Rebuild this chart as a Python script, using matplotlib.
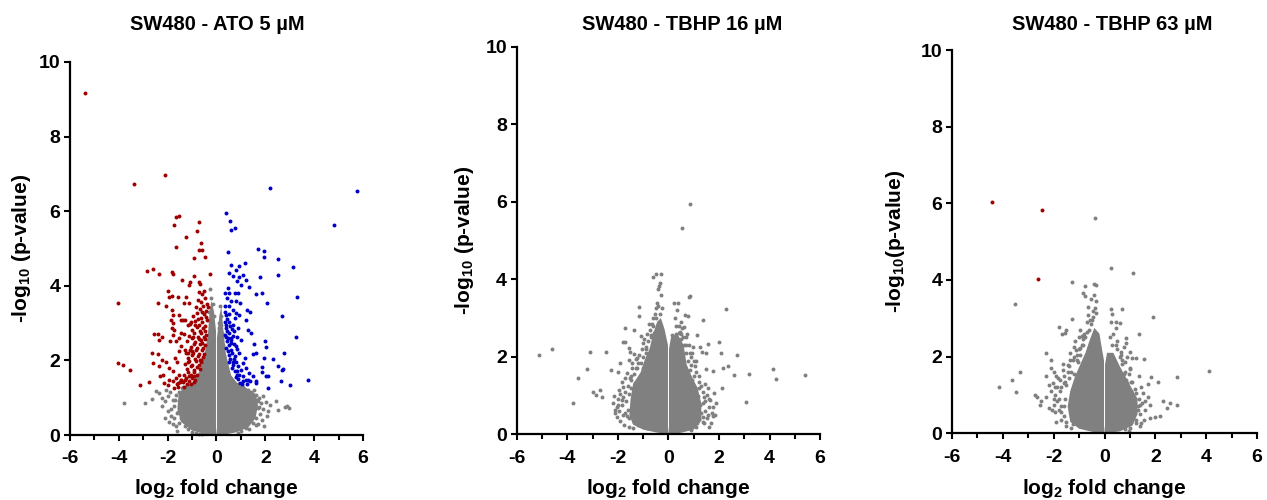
import matplotlib.pyplot as plt

plt.rcParams['font.family'] = ['Liberation Sans', 'DejaVu Sans']
plt.rcParams['font.weight'] = 'bold'
plt.rcParams['axes.labelweight'] = 'bold'
plt.rcParams['axes.unicode_minus'] = False
plt.rcParams['mathtext.fontset'] = 'custom'
plt.rcParams['mathtext.rm'] = 'Liberation Sans:bold'
plt.rcParams['mathtext.it'] = 'Liberation Sans:bold'
plt.rcParams['mathtext.bf'] = 'Liberation Sans:bold'

GREY = '#808080'
RED = '#a00000'
BLUE = '#0000c8'

titles = ['SW480 - ATO 5 µM', 'SW480 - TBHP 16 µM', 'SW480 - TBHP 63 µM']
ylabels = ['-log$_{10}$ (p-value)', '-log$_{10}$ (p-value)', '-log$_{10}$(p-value)']
xticks = [-6, -4, -2, 0, 2, 4, 6]
yticks = [0, 2, 4, 6, 8, 10]

# ATO 5 uM, significantly down (log2 fc, -log10 p)
ato_down = [
    (-5.38, 9.18), (-2.11, 6.96), (-3.38, 6.72), (-1.66, 5.84), (-1.55, 5.87), (-1.72, 5.62),
    (-0.71, 5.71), (-0.81, 5.48), (-1.23, 5.31), (-0.63, 5.15), (-1.66, 5.04), (-0.70, 4.97),
    (-0.60, 4.97), (-0.92, 4.74), (-0.47, 4.76), (-0.27, 4.32), (-2.83, 4.40), (-2.61, 4.45),
    (-2.37, 4.31), (-1.82, 4.38), (-1.78, 4.31), (-1.41, 4.16), (-0.93, 4.25), (-1.07, 4.09),
    (-1.14, 4.03), (-0.72, 4.11), (-0.66, 4.05), (-4.04, 3.55), (-2.41, 3.55), (-2.07, 3.47),
    (-2.00, 3.85), (-1.81, 3.73), (-1.96, 3.69), (-1.59, 3.69), (-1.31, 3.54), (-1.12, 3.54),
    (-1.24, 3.71), (-1.82, 3.36), (-1.76, 3.23), (-1.52, 3.22), (-1.45, 3.09), (-1.35, 3.09),
    (-1.27, 3.09), (-1.85, 3.09), (-1.79, 3.00), (-1.82, 2.87), (-1.72, 2.82), (-1.16, 2.96),
    (-1.03, 3.04), (-2.57, 2.71), (-2.41, 2.71), (-2.37, 2.55), (-2.23, 2.63), (-1.45, 2.73),
    (-1.34, 2.71), (-1.66, 2.51), (-1.52, 2.60), (-1.89, 2.51), (-1.79, 2.69), (-2.64, 2.21),
    (-2.41, 2.17), (-1.52, 2.24), (-1.45, 2.38), (-1.70, 2.06), (-1.63, 1.97), (-1.30, 2.29),
    (-1.15, 2.20), (-2.59, 1.93), (-2.37, 1.84), (-2.23, 2.02), (-2.07, 1.97), (-1.93, 1.79),
    (-1.79, 1.71), (-2.30, 1.57), (-2.20, 1.62), (-4.04, 1.93), (-3.82, 1.87), (-3.54, 1.75),
    (-3.12, 1.33), (-2.75, 1.41), (-2.13, 1.39), (-2.00, 1.35), (-1.93, 1.48), (-1.79, 1.44),
    (-1.66, 1.53), (-1.59, 1.39), (-1.45, 1.48), (-1.52, 1.62), (-1.31, 1.30), (-1.59, 1.30),
    (-1.72, 1.26),
    (-0.71, 3.83), (-0.58, 3.77), (-0.52, 3.86), (-0.77, 3.63), (-0.64, 3.57), (-0.47, 3.66),
    (-0.39, 3.52), (-0.83, 3.43), (-0.69, 3.37), (-0.56, 3.46), (-0.44, 3.33), (-0.35, 3.44),
    (-0.97, 3.18), (-0.79, 3.26), (-0.65, 3.13), (-0.53, 3.24), (-0.43, 3.16), (-1.07, 2.97),
    (-0.89, 3.06), (-0.73, 2.94), (-0.61, 3.03), (-0.49, 2.92), (-0.38, 3.08), (-0.99, 2.81),
    (-0.81, 2.89), (-0.67, 2.78), (-0.57, 2.88), (-0.45, 2.80), (-1.12, 2.66), (-0.93, 2.74),
    (-0.76, 2.63), (-0.63, 2.73), (-0.51, 2.64), (-0.43, 2.69), (-1.19, 2.51), (-1.01, 2.59),
    (-0.86, 2.49), (-0.71, 2.58), (-0.59, 2.47), (-0.49, 2.57), (-1.06, 2.36), (-0.91, 2.44),
    (-0.79, 2.34), (-0.67, 2.43), (-0.56, 2.33), (-0.47, 2.42), (-1.24, 2.21), (-1.09, 2.29),
    (-0.96, 2.19), (-0.83, 2.28), (-0.71, 2.17), (-0.61, 2.27), (-0.52, 2.18), (-1.16, 2.06),
    (-1.01, 2.14), (-0.87, 2.04), (-0.76, 2.12), (-0.65, 2.02), (-0.56, 2.09), (-1.29, 1.91),
    (-1.13, 1.99), (-0.99, 1.89), (-0.84, 1.98), (-0.73, 1.87), (-0.63, 1.96), (-1.21, 1.77),
    (-1.06, 1.85), (-0.93, 1.74), (-0.81, 1.83), (-0.69, 1.76), (-1.34, 1.62), (-1.17, 1.69),
    (-1.03, 1.60), (-0.91, 1.68), (-0.79, 1.61), (-1.44, 1.47), (-1.26, 1.54), (-1.11, 1.46),
    (-0.99, 1.53), (-0.87, 1.47), (-1.61, 1.37), (-1.37, 1.43), (-1.21, 1.36), (-1.04, 1.38),
    (-0.94, 1.42), (-0.95, 2.62), (-0.88, 2.95), (-0.74, 3.10), (-0.60, 3.30), (-1.00, 2.25),
    (-1.15, 1.95), (-0.62, 2.56), (-0.69, 2.01), (-0.90, 1.57), (-1.12, 1.57), (-1.30, 1.48),
    (-1.50, 1.42),
]

# ATO 5 uM, significantly up
ato_up = [
    (2.19, 6.62), (5.75, 6.53), (4.82, 5.62), (0.40, 5.95), (0.55, 5.75), (0.59, 5.50),
    (0.75, 5.55), (0.48, 4.90), (1.70, 4.98), (1.96, 4.92), (1.95, 4.77), (2.52, 4.72),
    (3.15, 4.50), (1.18, 4.62), (0.60, 4.55), (0.94, 4.52), (0.78, 4.43), (0.51, 4.34),
    (0.67, 4.27), (0.92, 4.23), (1.08, 4.29), (1.22, 4.16), (0.83, 4.12), (1.01, 4.03),
    (1.35, 3.98), (2.53, 4.29), (1.78, 4.23), (0.33, 3.82), (0.53, 3.82), (0.74, 3.80),
    (0.89, 3.80), (0.48, 3.94), (1.62, 3.78), (1.87, 3.82), (3.28, 3.71), (2.05, 3.53),
    (0.45, 3.67), (0.60, 3.58), (0.81, 3.58), (0.97, 3.54), (0.34, 3.45), (0.53, 3.45),
    (0.67, 3.34), (1.24, 3.34), (1.38, 3.31), (0.40, 3.22), (0.53, 3.25), (0.81, 3.27),
    (0.92, 3.22), (0.74, 3.13), (2.68, 3.18), (1.19, 3.07), (0.34, 3.04), (0.53, 3.04),
    (0.40, 2.87), (0.67, 2.96), (0.88, 2.87), (1.29, 2.82), (1.42, 2.73), (3.27, 2.64),
    (0.34, 2.69), (0.51, 2.73), (0.67, 2.66), (0.83, 2.64), (1.01, 2.55), (0.42, 2.51),
    (0.60, 2.46), (0.78, 2.38), (0.40, 2.33), (0.60, 2.29), (1.52, 2.45), (2.00, 2.51),
    (2.01, 2.35), (0.53, 2.15), (0.74, 2.11), (0.94, 2.20), (1.15, 2.06), (0.81, 1.97),
    (1.49, 2.18), (1.62, 2.20), (2.78, 2.21), (1.93, 2.06), (2.31, 2.04), (0.67, 1.88),
    (0.88, 1.84), (1.08, 1.93), (1.01, 1.75), (1.22, 1.79), (0.74, 1.71), (0.94, 1.62),
    (1.33, 1.66), (1.49, 1.57), (1.38, 1.44), (1.87, 1.81), (1.86, 1.68), (2.52, 1.84),
    (2.68, 1.75), (2.74, 1.77), (1.30, 1.48), (1.63, 1.44), (2.04, 1.57), (2.11, 1.59),
    (2.63, 1.46), (3.02, 1.35), (3.76, 1.47), (2.09, 1.26), (1.60, 1.39), (1.08, 1.57),
    (1.22, 1.48), (0.45, 3.10), (0.38, 2.95), (0.62, 2.85), (0.47, 2.60), (0.58, 2.55),
    (0.70, 2.45), (0.52, 2.40), (0.64, 2.20), (0.55, 2.05), (0.68, 1.95), (0.62, 1.80),
    (0.85, 1.72), (0.78, 1.55), (0.90, 1.50), (1.10, 1.45), (0.95, 1.40), (1.25, 1.38),
    (0.46, 2.25), (0.60, 2.60), (0.72, 2.78), (0.36, 3.30), (0.44, 2.80), (0.50, 1.95),
    (0.71, 2.03), (0.86, 2.31), (0.57, 2.91), (0.39, 2.62), (0.83, 1.61), (1.04, 1.36),
]

# ATO 5 uM, not significant (scattered outside the dense core)
ato_ns = [
    (-3.78, 0.86), (-2.93, 0.86), (-2.64, 0.97), (-2.48, 1.17), (-2.23, 0.79), (-2.11, 0.46),
    (-1.86, 0.52), (-1.52, 0.32), (-1.45, 0.46), (-1.79, 0.95), (-1.66, 1.08), (-2.00, 1.04),
    (-2.37, 1.13), (-1.41, 0.81), (-1.31, 0.68), (-1.24, 0.99), (-1.72, 0.77), (-1.59, 0.63),
    (1.63, 1.08), (1.76, 0.99), (1.90, 1.04), (2.01, 0.88), (2.42, 0.92), (2.52, 0.68),
    (2.79, 0.75), (2.88, 0.79), (2.99, 0.72), (1.49, 0.32), (1.60, 0.28), (1.35, 0.50),
    (1.49, 0.59), (1.70, 0.72), (1.83, 0.86), (1.29, 0.81), (1.46, 0.95), (0.94, 1.21),
    (1.22, 1.13), (-0.26, 3.91), (-0.21, 3.67), (-0.29, 3.31), (-0.31, 3.09), (0.15, 3.45),
    (0.19, 3.18), (0.12, 2.87), (0.23, 2.73), (-0.18, 2.73), (-0.15, 2.55), (-1.55, 0.90),
    (-1.50, 0.75), (-1.42, 1.25), (-1.20, 1.35), (-1.60, 0.60), (-1.30, 0.25), (-1.00, 0.08),
    (-0.70, 0.04), (1.30, 1.20), (1.55, 1.00), (1.70, 0.90), (1.45, 0.65), (1.60, 0.45),
    (1.20, 0.20), (0.90, 0.06), (1.05, 1.28), (0.90, 1.38), (-1.65, 0.25), (-1.75, 0.45),
    (-1.70, 0.95), (-1.55, 1.15), (-1.85, 0.70), (-1.90, 1.15), (-1.35, 1.28), (-1.15, 0.15),
    (-0.85, 0.05), (-0.60, 0.02), (-2.10, 0.90), (-2.00, 0.65), (-1.95, 0.35), (-1.60, 0.10),
    (1.70, 0.30), (1.80, 0.55), (1.75, 0.75), (1.65, 0.95), (1.40, 1.15), (1.10, 1.30),
    (1.00, 0.10), (1.35, 0.15), (1.90, 0.70), (2.05, 0.50), (2.20, 0.80), (1.95, 0.25),
    (-0.15, 3.50), (-0.10, 3.20), (0.10, 3.00), (0.18, 2.95), (-0.23, 3.00), (-0.20, 2.40),
    (0.25, 2.40), (0.28, 2.10), (-2.25, 1.00), (-2.05, 1.20), (-1.80, 0.30), (1.85, 0.40),
    (2.10, 0.65), (1.55, 1.20),
]
# outline of the dense grey core (left and right lobes)
ato_core_left = [(0.0, 0.0), (-0.5, 0.03), (-1.0, 0.12), (-1.45, 0.35), (-1.6, 0.7),
                 (-1.55, 1.1), (-1.3, 1.3), (-0.95, 1.42), (-0.7, 1.7), (-0.5, 2.1),
                 (-0.35, 2.7), (-0.27, 3.4), (-0.2, 3.6), (-0.1, 3.3), (-0.02, 2.8),
                 (-0.02, 0.2)]
ato_core_right = [(0.0, 0.0), (0.02, 0.2), (0.02, 2.6), (0.12, 3.2), (0.2, 3.44), (0.27, 2.9),
                  (0.38, 2.2), (0.6, 1.6), (0.9, 1.35), (1.25, 1.25), (1.6, 1.1),
                  (1.7, 0.8), (1.6, 0.45), (1.3, 0.2), (0.8, 0.07), (0.4, 0.02)]

# TBHP 16 uM, no significant hits
tbhp16_ns = [
    (0.86, 5.94), (0.55, 5.33), (-0.63, 4.06), (-0.49, 4.14), (-0.30, 4.14), (-0.38, 3.83),
    (-0.42, 3.76), (0.86, 3.58), (0.83, 3.53), (0.22, 3.40), (0.36, 3.40), (2.26, 3.23),
    (1.38, 2.95), (-1.16, 3.28), (-1.16, 3.04), (-1.73, 2.73), (-1.38, 2.69), (-1.08, 2.54),
    (-5.12, 2.05), (-4.59, 2.20), (-3.10, 2.13), (-2.48, 2.13), (-3.23, 1.68), (-3.57, 1.44),
    (-3.78, 0.80), (-2.99, 1.10), (-2.86, 1.01), (-2.70, 1.14), (-2.62, 0.95), (-2.27, 1.66),
    (-2.00, 1.60), (-1.91, 1.83), (-1.81, 2.37), (-1.71, 2.39), (-1.56, 2.22), (-1.52, 2.13),
    (-1.38, 2.07), (1.98, 2.38), (2.07, 2.11), (2.70, 2.05), (1.58, 2.33), (1.48, 2.11),
    (2.14, 1.72), (2.37, 1.75), (2.60, 1.53), (3.18, 1.56), (4.13, 1.68), (4.26, 1.43),
    (5.41, 1.53), (3.06, 0.84), (2.12, 1.19), (1.81, 1.07), (1.89, 0.80), (1.78, 1.63),
    (1.49, 1.69), (1.12, 2.56), (1.25, 2.26), (1.32, 2.13), (0.66, 3.08), (0.77, 3.04),
    (0.62, 2.78), (0.40, 2.61), (0.59, 2.52), (1.45, 1.31), (1.52, 1.01), (1.65, 0.89),
    (1.71, 0.54), (1.78, 0.46), (1.85, 0.50), (-1.78, 1.23), (-1.85, 0.89), (-1.98, 0.76),
    (-2.04, 0.71), (-2.11, 0.63), (-1.65, 0.46), (-1.58, 0.41), (-1.38, 0.33), (-1.19, 0.24),
    (-0.86, 0.15), (1.12, 0.28), (1.38, 0.33), (1.52, 0.41), (-1.65, 1.57), (-1.54, 1.44),
    (-1.48, 1.19), (-1.32, 1.32), (-1.58, 1.92), (-1.45, 1.83), (-1.25, 1.96), (-0.99, 2.35),
    (-0.88, 2.24), (-0.73, 2.69), (-0.59, 2.61), (0.99, 2.26), (0.92, 2.09), (-1.00, 1.70),
    (-0.90, 2.10), (-1.20, 1.30), (-1.40, 0.90), (-1.80, 0.50), (-2.00, 0.90), (-0.70, 2.50),
    (-0.60, 2.80), (-0.55, 3.10), (-0.40, 3.30), (0.50, 2.60), (0.70, 2.30), (0.90, 1.80),
    (1.00, 1.50), (1.20, 1.20), (1.35, 0.80), (1.45, 0.60), (0.30, 2.80), (0.50, 2.90),
    (1.10, 1.90), (-2.05, 0.45), (-1.95, 0.60), (-1.90, 0.35), (-1.85, 0.75), (-1.80, 0.95),
    (-1.70, 1.10), (-1.60, 1.25), (-1.50, 1.40), (-1.35, 1.55), (-1.25, 1.70), (-1.10, 1.85),
    (-1.00, 2.00), (-0.90, 2.20), (-0.80, 2.40), (-0.70, 2.55), (-1.75, 0.25), (-1.55, 0.20),
    (-1.40, 0.15), (-2.20, 0.80), (-2.15, 1.00), (-1.95, 1.15), (-1.85, 1.35), (-1.70, 1.45),
    (-1.45, 1.70), (-1.15, 2.05), (-1.30, 1.95), (-0.95, 2.45), (-0.65, 2.85), (-0.50, 3.00),
    (-0.35, 3.10), (-0.25, 3.25), (-0.45, 3.40), (-0.30, 3.60), (-0.35, 3.90), (1.20, 0.40),
    (1.30, 0.55), (1.25, 0.75), (1.15, 1.00), (1.05, 1.20), (0.95, 1.40), (0.85, 1.65),
    (0.78, 1.90), (0.70, 2.10), (0.60, 2.30), (0.50, 2.45), (0.45, 2.65), (0.30, 2.60),
    (1.40, 0.30), (1.10, 0.20), (0.90, 0.12), (1.45, 0.85), (1.35, 1.10), (1.20, 1.35),
    (1.10, 1.60), (1.00, 1.90), (0.85, 2.10), (0.75, 2.60), (0.15, 2.55), (0.25, 3.00),
    (0.35, 3.20), (1.55, 1.20), (1.60, 0.70), (1.60, 0.20), (-1.62, 0.62), (-1.68, 0.85),
    (-1.58, 1.05), (-1.90, 1.05), (-2.10, 0.55), (-1.72, 0.55), (-1.50, 1.50), (-1.30, 1.70),
    (-1.20, 1.85), (-1.05, 2.20), (-0.85, 2.60), (-0.78, 2.85), (-0.50, 3.25), (-0.62, 3.00),
    (1.38, 0.45), (1.42, 0.95), (1.30, 1.25), (1.20, 1.50), (1.05, 1.75), (0.90, 2.00),
    (0.80, 2.30), (0.70, 2.50), (1.55, 0.50), (1.62, 0.90), (1.75, 0.70), (1.70, 0.30),
    (0.40, 2.80), (0.55, 2.75),
]
tbhp16_core_left = [(0.0, 0.0), (-0.5, 0.05), (-1.0, 0.12), (-1.4, 0.25), (-1.55, 0.5),
                    (-1.5, 0.9), (-1.4, 1.3), (-1.1, 1.6), (-0.95, 1.9), (-0.75, 2.2),
                    (-0.6, 2.6), (-0.45, 2.9), (-0.3, 3.0), (-0.15, 2.7), (-0.02, 2.3),
                    (-0.02, 0.2)]
tbhp16_core_right = [(0.0, 0.0), (0.02, 0.2), (0.02, 2.2), (0.1, 2.5), (0.35, 2.6),
                     (0.6, 2.3), (0.72, 1.8), (0.95, 1.45), (1.15, 1.2), (1.3, 0.8),
                     (1.3, 0.35), (1.0, 0.12), (0.5, 0.04)]

# TBHP 63 uM, significantly down
tbhp63_down = [(-4.41, 6.03), (-2.47, 5.83), (-2.63, 4.02)]
tbhp63_ns = [
    (-0.36, 5.63), (0.27, 4.30), (1.13, 4.19), (-1.29, 3.96), (-0.77, 3.84), (-0.41, 3.90),
    (-0.32, 3.87), (-0.43, 3.62), (-0.85, 3.65), (-0.78, 3.57), (-3.51, 3.37), (0.70, 3.23),
    (0.24, 3.24), (0.28, 3.10), (1.92, 3.03), (-0.39, 3.26), (-0.32, 3.13), (-0.45, 3.04),
    (-0.64, 3.09), (-0.58, 2.96), (-1.27, 2.97), (-1.80, 2.78), (-1.66, 2.58), (-1.50, 2.70),
    (-1.57, 2.61), (0.61, 2.89), (0.47, 2.91), (1.34, 2.58), (0.86, 2.35), (0.86, 2.48),
    (-2.32, 2.10), (-2.12, 1.91), (-3.31, 1.59), (-3.64, 1.39), (-4.16, 1.22), (-3.47, 1.09),
    (-2.75, 1.00), (-2.64, 0.96), (-2.55, 0.74), (-2.49, 0.83), (-2.18, 0.65), (-1.50, 0.30),
    (-2.03, 1.30), (-1.96, 1.22), (-1.83, 1.43), (-2.09, 1.70), (-2.00, 1.61), (-1.63, 1.65),
    (-1.44, 1.78), (-1.37, 1.91), (-1.11, 2.17), (-0.98, 2.22), (1.23, 1.96), (1.55, 1.93),
    (0.99, 1.67), (1.36, 1.50), (1.84, 1.48), (2.10, 1.35), (1.71, 1.29), (2.87, 1.48),
    (4.10, 1.63), (2.30, 0.83), (2.45, 0.65), (2.58, 0.78), (2.84, 0.74), (1.97, 0.43),
    (2.17, 0.45), (1.78, 0.39), (1.49, 0.78), (1.51, 1.04), (1.78, 0.74), (1.23, 0.26),
    (1.45, 0.26), (0.75, 2.26), (0.66, 2.13), (0.99, 2.13), (1.10, 1.96), (-1.00, 2.50),
    (-0.90, 2.30), (-1.20, 2.00), (-1.05, 1.85), (-1.30, 1.60), (-0.80, 2.60), (-0.70, 2.90),
    (-0.95, 2.70), (-1.15, 2.40), (-1.40, 1.45), (-1.60, 1.30), (-1.75, 1.10), (-1.80, 0.90),
    (-1.70, 0.70), (-1.95, 0.55), (-2.10, 1.10), (-1.60, 0.45), (-1.25, 0.25), (0.80, 1.60),
    (0.90, 1.30), (1.05, 1.10), (1.20, 0.90), (1.30, 0.70), (1.15, 0.50), (1.05, 0.30),
    (0.50, 2.40), (0.35, 2.60), (0.70, 1.90), (-1.70, 0.35), (-1.80, 0.60), (-1.85, 0.85),
    (-1.70, 1.20), (-1.55, 1.35), (-1.45, 1.60), (-1.20, 1.55), (-1.10, 1.90), (-0.95, 2.05),
    (-0.85, 2.30), (-0.75, 2.50), (-0.60, 2.70), (-0.50, 2.95), (-0.45, 3.20), (-0.35, 3.45),
    (-1.30, 0.15), (-1.50, 0.20), (-2.00, 0.90), (-2.20, 1.25), (-2.30, 1.50), (-1.90, 1.50),
    (-1.65, 1.80), (-1.35, 2.10), (-1.20, 2.25), (-0.90, 2.55), (-0.65, 3.30), (-0.55, 3.50),
    (-1.90, 0.30), (-2.05, 0.60), (-2.30, 0.95), (1.10, 0.50), (1.15, 0.75), (1.00, 0.95),
    (0.90, 1.10), (0.85, 1.40), (0.75, 1.55), (0.70, 1.80), (0.60, 2.00), (0.50, 2.20),
    (0.30, 2.30), (0.20, 2.50), (1.25, 0.35), (1.30, 0.60), (1.35, 0.90), (1.20, 1.15),
    (1.05, 1.35), (1.00, 1.70), (0.90, 2.00), (0.45, 2.75), (0.25, 2.90), (1.60, 0.60),
    (1.70, 0.95), (1.45, 1.20), (0.80, 0.10), (1.40, 0.20), (1.00, 0.15), (-1.50, 1.25),
    (-1.60, 1.50), (-1.75, 1.40), (-1.85, 1.20), (-1.95, 1.00), (-2.00, 0.75), (-1.55, 0.90),
    (-1.60, 0.70), (-1.70, 0.55), (-1.40, 1.75), (-1.25, 1.90), (-1.10, 2.05), (-1.00, 2.20),
    (-0.85, 2.45), (-0.70, 2.65), (-0.55, 2.85), (1.40, 0.50), (1.40, 0.75), (1.25, 1.05),
    (1.10, 1.35), (0.95, 1.55), (0.80, 1.85), (0.65, 2.05), (0.45, 2.30), (1.55, 0.35),
    (1.60, 0.85), (0.95, 0.05),
]
tbhp63_core_left = [(0.0, 0.0), (-0.5, 0.04), (-1.0, 0.12), (-1.35, 0.3), (-1.45, 0.7),
                    (-1.35, 1.1), (-1.15, 1.5), (-0.95, 1.8), (-0.75, 2.1), (-0.6, 2.4),
                    (-0.4, 2.75), (-0.2, 2.6), (-0.1, 2.2), (-0.02, 1.9), (-0.02, 0.2)]
tbhp63_core_right = [(0.0, 0.0), (0.02, 0.2), (0.02, 1.8), (0.1, 2.1), (0.35, 2.1),
                     (0.6, 1.75), (0.85, 1.45), (1.05, 1.2), (1.3, 0.9), (1.3, 0.5),
                     (1.1, 0.2), (0.6, 0.05)]

panels = [
    dict(core=[ato_core_left, ato_core_right], ns=ato_ns, down=ato_down, up=ato_up),
    dict(core=[tbhp16_core_left, tbhp16_core_right], ns=tbhp16_ns, down=[], up=[]),
    dict(core=[tbhp63_core_left, tbhp63_core_right], ns=tbhp63_ns, down=tbhp63_down, up=[]),
]

fig = plt.figure(figsize=(12.67, 5), dpi=100)
axes_rects = [[0.0552, 0.13, 0.2313, 0.746],
              [0.4079, 0.1314, 0.2394, 0.7752],
              [0.7514, 0.1334, 0.2407, 0.7666]]
title_pos = [(217, 24), (682, 24), (1112, 24)]
ylabel_x = [-0.125, -0.135, -0.147]
xlabel_y = [-0.113, -0.110, -0.114]

for i, p in enumerate(panels):
    ax = fig.add_axes(axes_rects[i])
    for lobe in p['core']:
        ax.fill([q[0] for q in lobe], [q[1] for q in lobe], color=GREY, lw=0, zorder=1)
    for pts, col in [(p['ns'], GREY), (p['down'], RED), (p['up'], BLUE)]:
        if pts:
            ax.scatter([q[0] for q in pts], [q[1] for q in pts], s=8, color=col,
                       linewidths=0, zorder=2, clip_on=False)

    ax.set_xlim(-6, 6)
    ax.set_ylim(0, 10)
    ax.spines['top'].set_visible(False)
    ax.spines['right'].set_visible(False)
    for s in ['left', 'bottom']:
        ax.spines[s].set_linewidth(1.6)
    ax.tick_params(which='major', length=4, width=1.5)
    ax.tick_params(axis='x', which='major', pad=7)
    ax.tick_params(axis='y', which='major', pad=3)
    ax.tick_params(which='minor', length=3.5, width=1.5)
    ax.set_xticks(xticks)
    ax.set_xticks([-5, -3, -1, 1, 3, 5], minor=True)
    ax.set_yticks(yticks)
    ax.set_xticklabels([str(v) for v in xticks], fontsize=14, fontweight='heavy',
                       family='Liberation Sans')
    ax.set_yticklabels([str(v) for v in yticks], fontsize=14, fontweight='heavy',
                       family='Liberation Sans')
    ax.set_xlabel('log$_2$ fold change', fontsize=15, fontweight='bold')
    ax.set_ylabel(ylabels[i], fontsize=15, fontweight='bold')
    ax.xaxis.set_label_coords(0.5, xlabel_y[i])
    ax.yaxis.set_label_coords(ylabel_x[i], 0.5)
    fig.text(title_pos[i][0] / 1267, 1 - title_pos[i][1] / 500, titles[i],
             ha='center', va='center', fontsize=14.5, fontweight='bold')

fig.savefig('out.png', dpi=100)
